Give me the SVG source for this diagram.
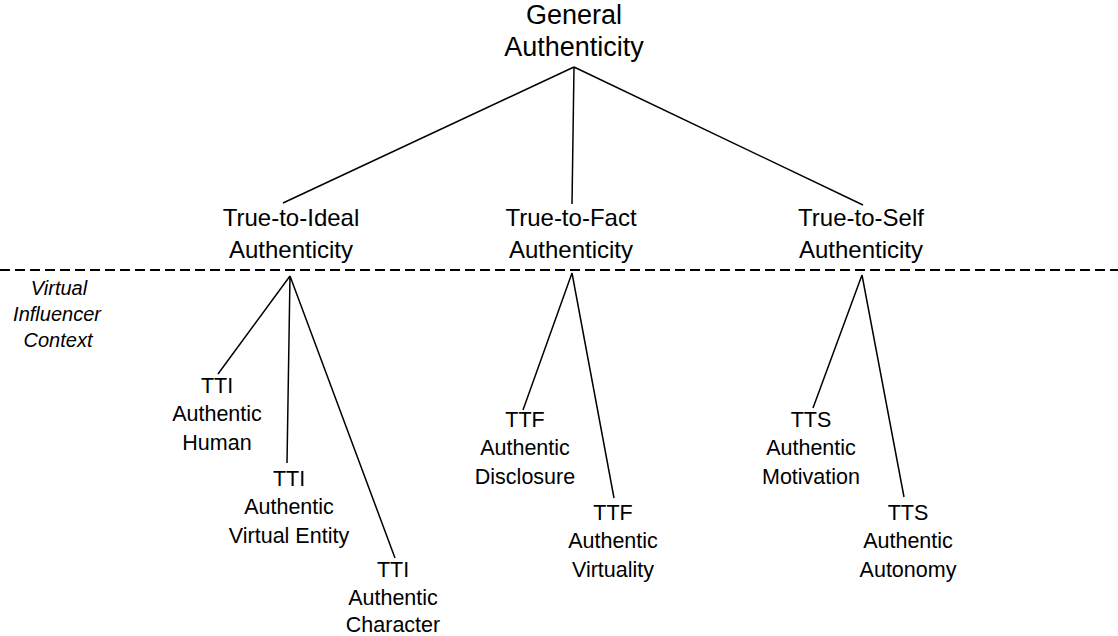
<svg xmlns="http://www.w3.org/2000/svg" width="1118" height="636" viewBox="0 0 1118 636">
<style>
text{font-family:"Liberation Sans",Arial,sans-serif;fill:#000;text-anchor:middle}
.t0{font-size:27px}
.t1{font-size:24px}
.t2{font-size:21.5px}
.ctx{font-size:20px;font-style:italic}
.ln{stroke:#000;stroke-width:1.5;fill:none}
.dash{stroke:#000;stroke-width:2;stroke-dasharray:10 5;fill:none}
</style>
<rect width="1118" height="636" fill="#fff"/>
<g id="connectors">
<path class="ln" d="M574 67L283 203M574 67L572 204M574 67L863 205"/>
<path class="ln" d="M290 276L218 374M290 276L287 463M290 276L395 558"/>
<path class="ln" d="M572 273L523 410M572 273L614 498"/>
<path class="ln" d="M862 275L813 408M862 275L904 497"/>
</g>
<g id="divider"><line class="dash" x1="0" y1="270" x2="1118" y2="270"/></g>
<g id="context"><text class="ctx"><tspan x="59" y="295">Virtual</tspan><tspan x="57" y="321">Influencer</tspan><tspan x="58" y="347">Context</tspan></text></g>
<g id="general"><text class="t0"><tspan x="574" y="24">General</tspan><tspan x="574" y="56">Authenticity</tspan></text></g>
<g id="tti"><text class="t1"><tspan x="291" y="226">True-to-Ideal</tspan><tspan x="291" y="258">Authenticity</tspan></text></g>
<g id="ttf"><text class="t1"><tspan x="571" y="226">True-to-Fact</tspan><tspan x="571" y="258">Authenticity</tspan></text></g>
<g id="tts"><text class="t1"><tspan x="861" y="226">True-to-Self</tspan><tspan x="861" y="258">Authenticity</tspan></text></g>
<g id="tti-human"><text class="t2"><tspan x="217" y="393">TTI</tspan><tspan x="217" y="421">Authentic</tspan><tspan x="217" y="450">Human</tspan></text></g>
<g id="tti-virtual"><text class="t2"><tspan x="289" y="486">TTI</tspan><tspan x="289" y="514">Authentic</tspan><tspan x="289" y="543">Virtual Entity</tspan></text></g>
<g id="tti-character"><text class="t2"><tspan x="393" y="577">TTI</tspan><tspan x="393" y="605">Authentic</tspan><tspan x="393" y="632">Character</tspan></text></g>
<g id="ttf-disclosure"><text class="t2"><tspan x="525" y="427">TTF</tspan><tspan x="525" y="455">Authentic</tspan><tspan x="525" y="484">Disclosure</tspan></text></g>
<g id="ttf-virtuality"><text class="t2"><tspan x="613" y="520">TTF</tspan><tspan x="613" y="548">Authentic</tspan><tspan x="613" y="577">Virtuality</tspan></text></g>
<g id="tts-motivation"><text class="t2"><tspan x="811" y="427">TTS</tspan><tspan x="811" y="455">Authentic</tspan><tspan x="811" y="484">Motivation</tspan></text></g>
<g id="tts-autonomy"><text class="t2"><tspan x="908" y="520">TTS</tspan><tspan x="908" y="548">Authentic</tspan><tspan x="908" y="577">Autonomy</tspan></text></g>
</svg>
